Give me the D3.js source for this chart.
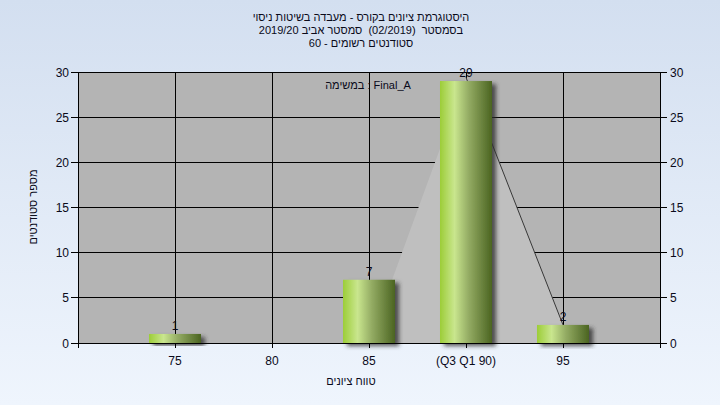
<!DOCTYPE html>
<html><head><meta charset="utf-8">
<script src="https://cdn.jsdelivr.net/npm/d3@7"></script>
<style>html,body{margin:0;padding:0;overflow:hidden;}svg{display:block;}</style>
</head><body>
<script>
const categories = ["75", "80", "85", "(Q3 Q1 90)", "95"];
const counts = [1, 0, 7, 29, 2];
const trendValues = [0, 0, 0, 29.4, 2];
const yTicks = [0, 5, 10, 15, 20, 25, 30];
const titleLines = ["היסטוגרמת ציונים בקורס - מעבדה בשיטות ניסוי", "בסמסטר  (02/2019)  סמסטר אביב 2019/20", "סטודנטים רשומים - 60"];
const xTitle = "טווח ציונים";
const yTitle = "מספר סטודנטים";
const note = "במשימה : Final_A";

const W = 720, H = 405;
const L = 78, R = 660, T = 72, B = 343;
const font = "'Liberation Sans', Arial, sans-serif";

const svg = d3.select("body").append("svg").attr("width", W).attr("height", H);
const defs = svg.append("defs");
const bg = defs.append("linearGradient").attr("id", "bg").attr("x1", 0).attr("y1", 0).attr("x2", 0).attr("y2", 1);
bg.append("stop").attr("offset", "0%").attr("stop-color", "#d3dff0");
bg.append("stop").attr("offset", "100%").attr("stop-color", "#eff5fd");
const bar = defs.append("linearGradient").attr("id", "bar").attr("x1", 0).attr("y1", 0).attr("x2", 1).attr("y2", 0);
[["0%", "#9ccd38"], ["28%", "#c9e68e"], ["55%", "#94ac64"], ["100%", "#4b6421"]].forEach(s =>
  bar.append("stop").attr("offset", s[0]).attr("stop-color", s[1]));
const f = defs.append("filter").attr("id", "sh").attr("x", "-20%").attr("y", "-20%").attr("width", "150%").attr("height", "150%");
f.append("feDropShadow").attr("dx", 4).attr("dy", 3).attr("stdDeviation", 2).attr("flood-color", "#303030").attr("flood-opacity", 0.8);

svg.append("rect").attr("width", W).attr("height", H).attr("fill", "url(#bg)");

const x = d3.scaleLinear().domain([-1, categories.length]).range([L, R]);
const y = d3.scaleLinear().domain([0, 30]).range([B, T]);

svg.append("rect").attr("x", L).attr("y", T).attr("width", R - L).attr("height", B - T).attr("fill", "#b4b4b4");

const g = svg.append("g").attr("stroke", "#000").attr("stroke-width", 1).attr("shape-rendering", "crispEdges");
yTicks.forEach(v => g.append("line").attr("x1", L).attr("x2", R).attr("y1", y(v)).attr("y2", y(v)));
categories.forEach((c, i) => g.append("line").attr("x1", x(i)).attr("x2", x(i)).attr("y1", T).attr("y2", B));

const pts = trendValues.map((v, i) => [i, v]);
svg.append("path").datum(pts)
  .attr("d", d3.area().x(d => x(d[0])).y0(y(0)).y1(d => y(d[1])))
  .attr("fill", "#bfbfbf");
svg.append("path").datum(pts)
  .attr("d", d3.line().defined(d => d[0] >= 3).x(d => x(d[0])).y(d => y(d[1])))
  .attr("fill", "none").attr("stroke", "#383838").attr("stroke-width", 1);

const barData = counts.map((v, i) => ({i, v})).filter(d => d.v > 0);
const bw = 52;
svg.append("g").selectAll("rect").data(barData).join("rect")
  .attr("x", d => x(d.i) - bw / 2)
  .attr("y", d => y(d.v)).attr("width", bw).attr("height", d => y(0) - y(d.v))
  .attr("fill", "url(#bar)").attr("filter", "url(#sh)");

const ax = svg.append("g").attr("stroke", "#000").attr("shape-rendering", "crispEdges");
ax.append("line").attr("x1", L).attr("x2", L).attr("y1", T).attr("y2", B + 5);
ax.append("line").attr("x1", R).attr("x2", R).attr("y1", T).attr("y2", B + 5);
ax.append("line").attr("x1", L).attr("x2", R + 7).attr("y1", B).attr("y2", B);
yTicks.forEach(v => {
  ax.append("line").attr("x1", L - 7).attr("x2", L).attr("y1", y(v)).attr("y2", y(v));
  ax.append("line").attr("x1", R).attr("x2", R + 7).attr("y1", y(v)).attr("y2", y(v));
});
categories.forEach((c, i) => ax.append("line").attr("x1", x(i)).attr("x2", x(i)).attr("y1", B).attr("y2", B + 5));

const txt = (xx, yy, s, anchor, size) => svg.append("text").attr("x", xx).attr("y", yy).text(s)
  .attr("font-family", font).attr("font-size", size || 12).attr("fill", "#0a0a1a").attr("text-anchor", anchor || "middle");

yTicks.forEach(v => {
  txt(L - 9, y(v) + 4.5, v, "end");
  txt(R + 10, y(v) + 4.5, v, "start");
});
categories.forEach((c, i) => txt(x(i), B + 22, c).attr("direction", "ltr"));

barData.forEach(d => txt(x(d.i), y(d.v) - 4, d.v));

titleLines.forEach((s, i) => txt(361, 21 + i * 13, s, "middle", 11)
  .attr("direction", "rtl").style("unicode-bidi", "embed").style("white-space", "pre"));
txt(351, 385, xTitle, "middle", 11).attr("direction", "rtl").style("unicode-bidi", "embed");
svg.append("text").attr("transform", "translate(37,207) rotate(-90)").text(yTitle)
  .attr("font-family", font).attr("font-size", 11).attr("fill", "#0a0a1a").attr("text-anchor", "middle")
  .attr("direction", "rtl").style("unicode-bidi", "embed");
txt(368, 89, note, "middle", 11).attr("direction", "ltr");
</script>
</body></html>
